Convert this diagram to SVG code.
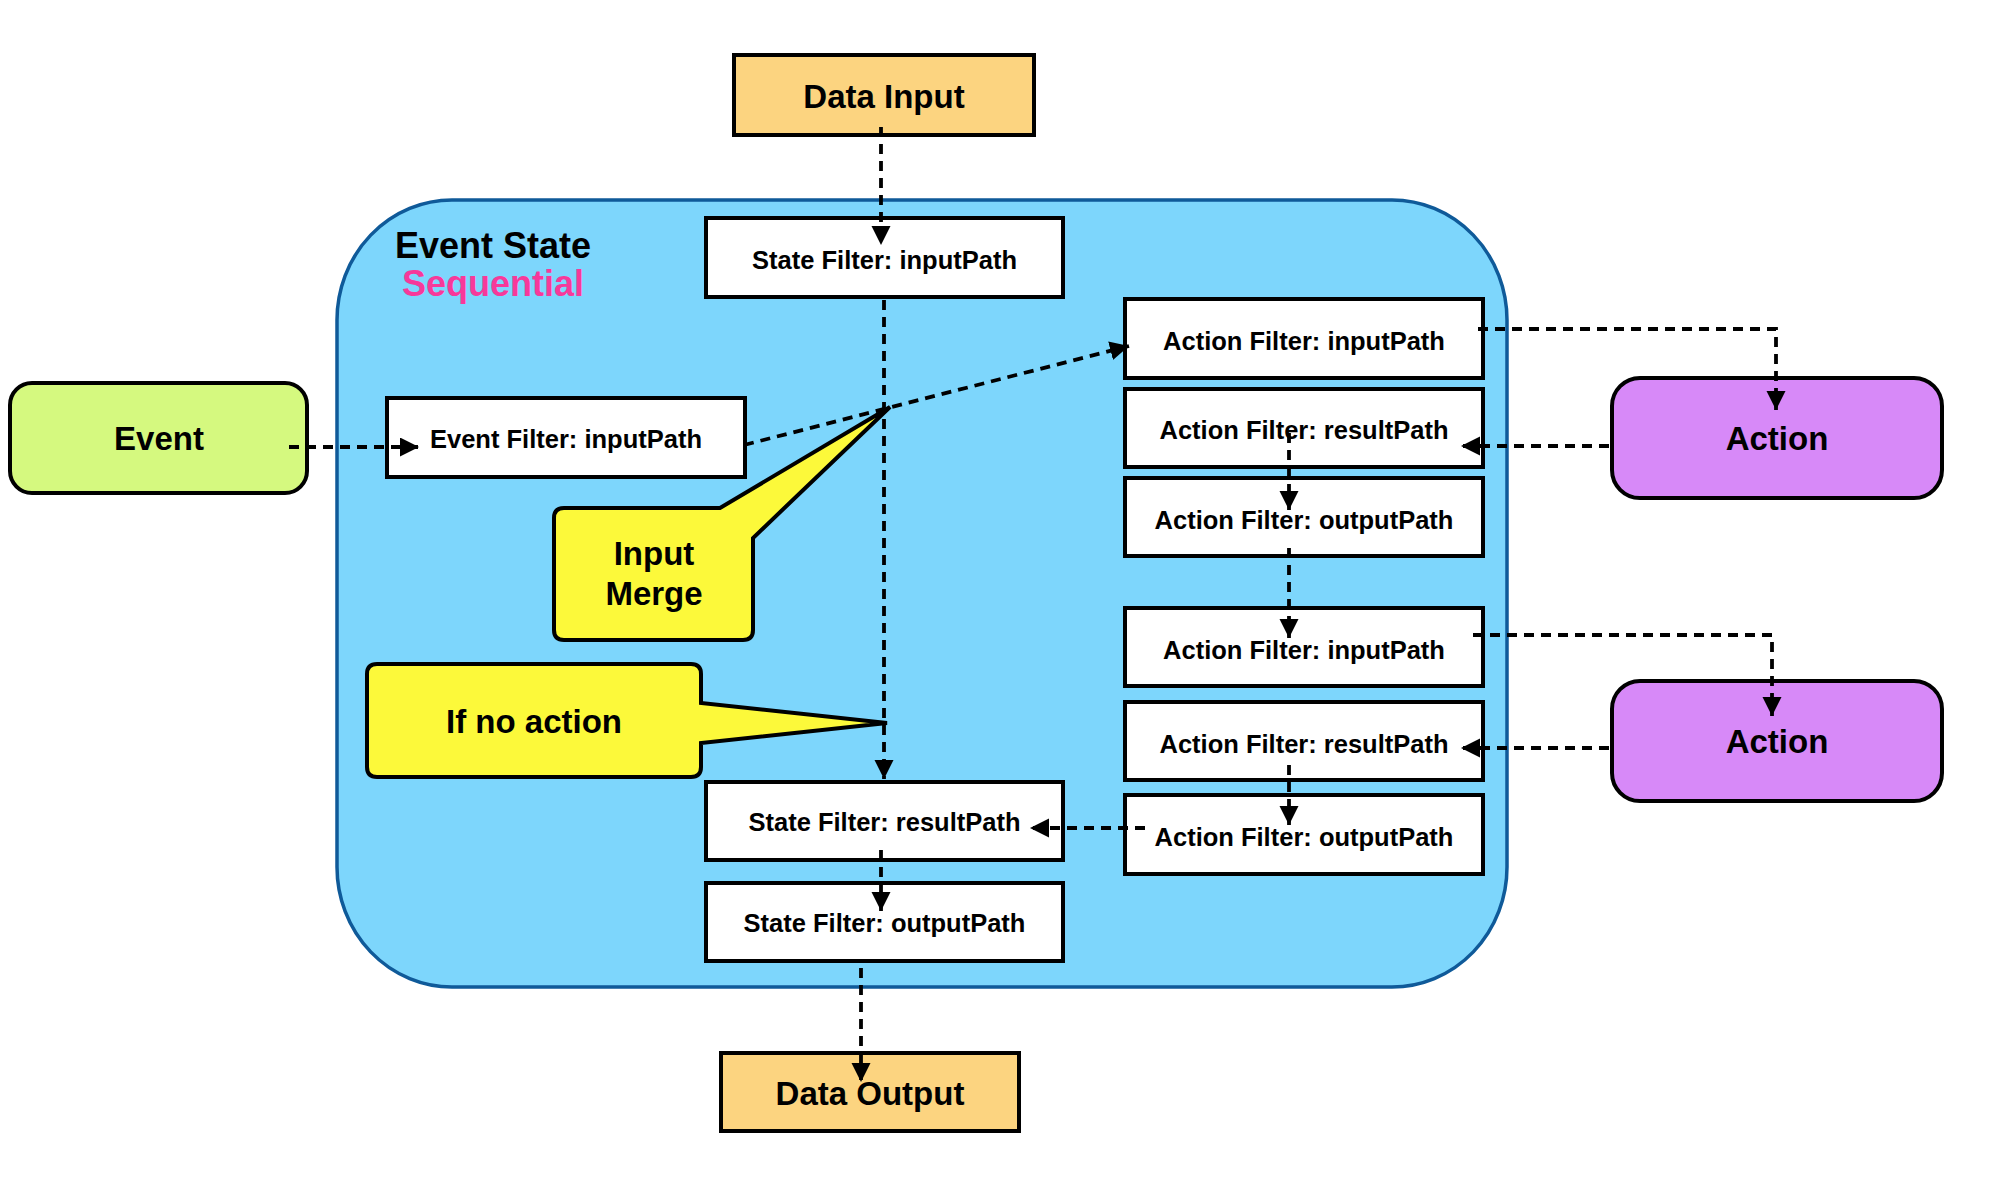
<svg xmlns="http://www.w3.org/2000/svg" width="2002" height="1202" viewBox="0 0 2002 1202">
<defs>
<marker id="arr" markerUnits="userSpaceOnUse" markerWidth="20" markerHeight="20" refX="19" refY="9.5" orient="auto">
<path d="M0,0 L19,9.5 L0,19 z" fill="#000"/>
</marker>
<style>
.t{font-family:"Liberation Sans",Arial,sans-serif;font-weight:bold;fill:#000;text-anchor:middle}
.s{font-size:25.5px}
.l{font-size:33px}
.box{fill:#fff;stroke:#000;stroke-width:4}
.data{fill:#FCD480;stroke:#000;stroke-width:4}
.ev{fill:#D5F97F;stroke:#000;stroke-width:4}
.act{fill:#D789F8;stroke:#000;stroke-width:4}
.call{fill:#FCF93A;stroke:#000;stroke-width:4;stroke-linejoin:miter}
.c{fill:none;stroke:#000;stroke-width:3.8;stroke-dasharray:10 7;marker-end:url(#arr)}
</style>
</defs>
<rect width="2002" height="1202" fill="#fff"/>
<g id="container">
<rect x="337" y="200" width="1170" height="787" rx="115" ry="120" fill="#7DD6FC" stroke="#0F5A99" stroke-width="3.5"/>
<text class="t" x="493" y="258" font-size="36">Event State</text>
<text class="t" x="493" y="296" font-size="36" style="fill:#F7399A">Sequential</text>
</g>
<g id="data-input"><rect class="data" x="734" y="55" width="300" height="80"/><text class="t l" x="884" y="108">Data Input</text></g>
<g id="data-output"><rect class="data" x="721" y="1053" width="298" height="78"/><text class="t l" x="870" y="1105">Data Output</text></g>
<g id="event"><rect class="ev" x="10" y="383" width="297" height="110" rx="22"/><text class="t l" x="159" y="450">Event</text></g>
<g id="action1"><rect class="act" x="1612" y="378" width="330" height="120" rx="28"/><text class="t l" x="1777" y="450">Action</text></g>
<g id="action2"><rect class="act" x="1612" y="681" width="330" height="120" rx="28"/><text class="t l" x="1777" y="753">Action</text></g>
<g id="sf-input"><rect class="box" x="706" y="218" width="357" height="79"/><text class="t s" x="884.5" y="269">State Filter: inputPath</text></g>
<g id="sf-result"><rect class="box" x="706" y="782" width="357" height="78"/><text class="t s" x="884.5" y="831">State Filter: resultPath</text></g>
<g id="sf-output"><rect class="box" x="706" y="883" width="357" height="78"/><text class="t s" x="884.5" y="932">State Filter: outputPath</text></g>
<g id="ef-input"><rect class="box" x="387" y="398" width="358" height="79"/><text class="t s" x="566" y="448">Event Filter: inputPath</text></g>
<g id="af-input1"><rect class="box" x="1125" y="299" width="358" height="79"/><text class="t s" x="1304" y="350">Action Filter: inputPath</text></g>
<g id="af-result1"><rect class="box" x="1125" y="389" width="358" height="78"/><text class="t s" x="1304" y="439">Action Filter: resultPath</text></g>
<g id="af-output1"><rect class="box" x="1125" y="478" width="358" height="78"/><text class="t s" x="1304" y="529">Action Filter: outputPath</text></g>
<g id="af-input2"><rect class="box" x="1125" y="608" width="358" height="78"/><text class="t s" x="1304" y="659">Action Filter: inputPath</text></g>
<g id="af-result2"><rect class="box" x="1125" y="702" width="358" height="78"/><text class="t s" x="1304" y="753">Action Filter: resultPath</text></g>
<g id="af-output2"><rect class="box" x="1125" y="795" width="358" height="79"/><text class="t s" x="1304" y="846">Action Filter: outputPath</text></g>
<g id="connectors">
<path class="c" d="M881,127 L881,245"/>
<path class="c" d="M884,300 L884,779"/>
<path class="c" d="M289,447 L419,447"/>
<path class="c" d="M744,445 L1129,346"/>
<path class="c" d="M1478,329 L1776,329 L1776,410"/>
<path class="c" d="M1609,446 L1461,446"/>
<path class="c" d="M1289,433 L1289,510"/>
<path class="c" d="M1289,548 L1289,638"/>
<path class="c" d="M1473,635 L1772,635 L1772,716"/>
<path class="c" d="M1609,748 L1461,748"/>
<path class="c" d="M1289,765 L1289,825"/>
<path class="c" d="M1145,828 L1030,828"/>
<path class="c" d="M881,850 L881,911"/>
<path class="c" d="M861,968 L861,1082"/>
</g>
<g id="callout-input-merge">
<path class="call" d="M564,508 L720,508 L890,407 L753,538 L753,630 Q753,640 743,640 L564,640 Q554,640 554,630 L554,518 Q554,508 564,508 Z"/>
<text class="t l" x="654" y="565">Input</text>
<text class="t l" x="654" y="605">Merge</text>
</g>
<g id="callout-no-action">
<path class="call" d="M377,664 L691,664 Q701,664 701,674 L701,703 L887,723 L701,743 L701,767 Q701,777 691,777 L377,777 Q367,777 367,767 L367,674 Q367,664 377,664 Z"/>
<text class="t l" x="534" y="733">If no action</text>
</g>
</svg>
